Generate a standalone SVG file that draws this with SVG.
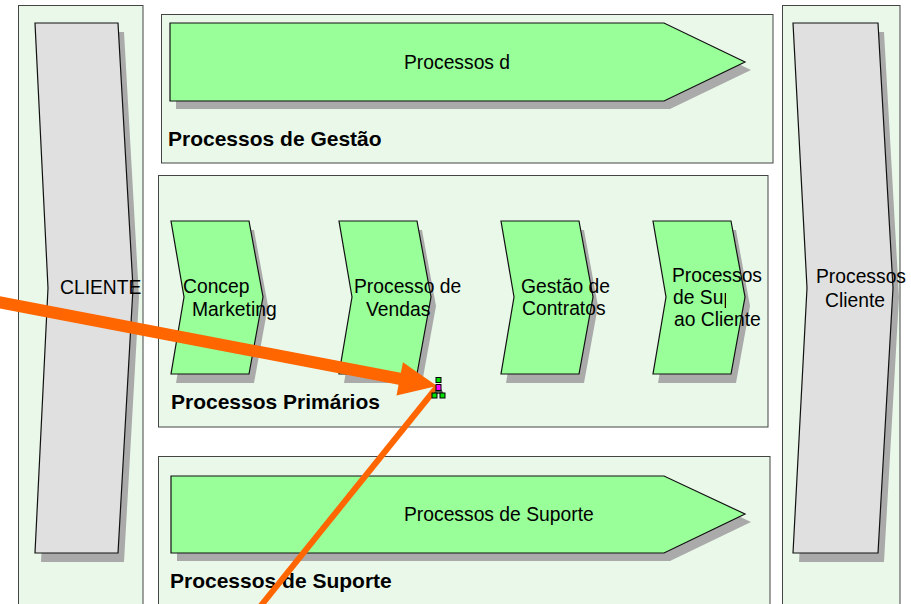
<svg xmlns="http://www.w3.org/2000/svg" width="911" height="604" viewBox="0 0 911 604">
<style>
.box{fill:#EAF8EA;stroke:#444;stroke-width:1}
.shadow{fill:#AAAAAA}
.green{fill:#99FF99;stroke:#111;stroke-width:1.2}
.gray{fill:#E0E0E0;stroke:#111;stroke-width:1.2}
.t{font-family:"Liberation Sans",Arial,sans-serif;font-size:19.3px;fill:#000}
.b{font-family:"Liberation Sans",Arial,sans-serif;font-size:21px;font-weight:bold;fill:#000}
.h{stroke:#000;stroke-width:1}
</style>
<defs>
<path id="chev" d="M0,0 L78,0 L92,76 L78,153 L0,153 L13,76 Z"/>
<clipPath id="clipSup"><rect x="600" y="200" width="126" height="200"/></clipPath>
</defs>
<rect width="911" height="604" fill="#fff"/>

<g id="cliente">
<rect class="box" x="18.5" y="5.5" width="124.5" height="610"/>
<path class="shadow" d="M41,32 L124,32 L139,297 L124,562 L41,562 L54,297 Z"/>
<path class="gray" d="M35,23 L118,23 L133,288 L118,553 L35,553 L48,288 Z"/>
<text class="t" x="60" y="294">CLIENTE</text>
</g>

<g id="processos-cliente">
<rect class="box" x="782.5" y="5.5" width="117.5" height="610"/>
<path class="shadow" d="M799,32 L884,32 L899,297 L884,562 L799,562 L813,297 Z"/>
<path class="gray" d="M793,23 L878,23 L893,288 L878,553 L793,553 L807,288 Z"/>
<text class="t" x="816" y="283">Processos</text>
<text class="t" x="825" y="307">Cliente</text>
</g>

<g id="gestao">
<rect class="box" x="161.5" y="14.5" width="611.5" height="148.5"/>
<path class="shadow" d="M176,31 L670,31 L751,70 L670,109 L176,109 Z"/>
<path class="green" d="M170,23 L664,23 L745,62 L664,101 L170,101 Z"/>
<text class="t" x="404" y="69">Processos d</text>
<text class="b" x="168" y="146">Processos de Gestão</text>
</g>

<g id="primarios">
<rect class="box" x="158.5" y="175.5" width="609.5" height="251.5"/>
<text class="b" x="171" y="409">Processos Primários</text>
</g>

<g id="concep">
<use href="#chev" class="shadow" x="176" y="230"/>
<use href="#chev" class="green" x="171" y="221"/>
<text class="t" x="183" y="293">Concep</text>
<text class="t" x="192" y="316">Marketing</text>
</g>

<g id="vendas">
<use href="#chev" class="shadow" x="344" y="230"/>
<use href="#chev" class="green" x="339" y="221"/>
<text class="t" x="354" y="293">Processo de</text>
<text class="t" x="366" y="316">Vendas</text>
</g>

<g id="contratos">
<use href="#chev" class="shadow" x="506" y="230"/>
<use href="#chev" class="green" x="501" y="221"/>
<text class="t" x="521" y="293">Gestão de</text>
<text class="t" x="522" y="315">Contratos</text>
</g>

<g id="suporte-cliente">
<use href="#chev" class="shadow" x="658" y="230"/>
<use href="#chev" class="green" x="653" y="221"/>
<text class="t" x="672" y="282">Processos</text>
<text class="t" x="673" y="304" clip-path="url(#clipSup)">de Sup</text>
<text class="t" x="674" y="326">ao Cliente</text>
</g>

<g id="suporte">
<rect class="box" x="158.5" y="456.5" width="611.5" height="160"/>
<path class="shadow" d="M177,484 L670,484 L751,522 L670,561 L177,561 Z"/>
<path class="green" d="M171,476 L664,476 L745,514 L664,553 L171,553 Z"/>
<text class="t" x="404" y="521">Processos de Suporte</text>
<text class="b" x="170" y="588">Processos de Suporte</text>
</g>

<g id="connectors">
<line x1="-5" y1="301.5" x2="401" y2="379" stroke="#FF6600" stroke-width="12"/>
<polygon points="437,386 402.9,362.2 396.5,395.6" fill="#FF6600"/>
<line x1="437" y1="387" x2="255" y2="613" stroke="#FF6600" stroke-width="6"/>
<polygon points="438,384 434,394 444,394" fill="#555"/>
<rect class="h" x="436" y="377.5" width="5" height="5" fill="#00E000"/>
<rect class="h" x="436" y="384.5" width="5" height="6" fill="#FF00FF"/>
<rect class="h" x="432" y="393" width="5" height="5" fill="#00E000"/>
<rect class="h" x="440" y="393" width="5" height="5" fill="#00E000"/>
</g>
</svg>
